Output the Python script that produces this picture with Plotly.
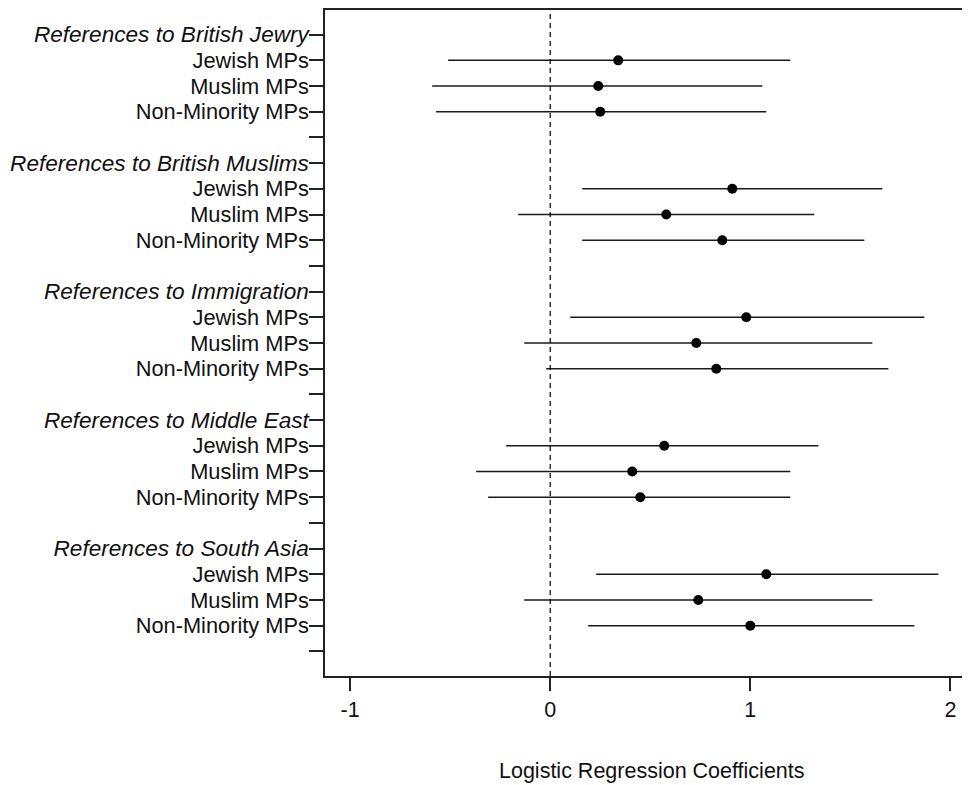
import plotly.graph_objects as go

groups = ["References to British Jewry", "References to British Muslims",
          "References to Immigration", "References to Middle East",
          "References to South Asia"]
mp_types = ["Jewish MPs", "Muslim MPs", "Non-Minority MPs"]

est = [0.34, 0.24, 0.25,
       0.91, 0.58, 0.86,
       0.98, 0.73, 0.83,
       0.57, 0.41, 0.45,
       1.08, 0.74, 1.00]
lo = [-0.51, -0.59, -0.57,
      0.16, -0.16, 0.16,
      0.10, -0.13, -0.02,
      -0.22, -0.37, -0.31,
      0.23, -0.13, 0.19]
hi = [1.20, 1.06, 1.08,
      1.66, 1.32, 1.57,
      1.87, 1.61, 1.69,
      1.34, 1.20, 1.20,
      1.94, 1.61, 1.82]

x_ticks = [-1, 0, 1, 2]
x_title = "Logistic Regression Coefficients"

# build row layout: header, three MP rows, blank
tickvals, ticktext = [], []
ys = []
row = 1
for g in groups:
    tickvals.append(row)
    ticktext.append("<i><span style='font-size:22.6px'>" + g + "</span></i>")
    row += 1
    for m in mp_types:
        tickvals.append(row); ticktext.append(m)
        ys.append(row)
        row += 1
    tickvals.append(row); ticktext.append("")
    row += 1

FONT = "Liberation Sans, Arial, sans-serif"
fig = go.Figure()

for i in range(len(est)):
    fig.add_trace(go.Scatter(x=[lo[i], hi[i]], y=[ys[i], ys[i]], mode="lines",
                             line=dict(color="#1a1a1a", width=1.5),
                             showlegend=False, hoverinfo="skip"))

fig.add_trace(go.Scatter(x=est, y=ys, mode="markers",
                         marker=dict(color="black", size=10),
                         showlegend=False))

fig.add_shape(type="line", xref="x", yref="paper", x0=0, x1=0, y0=0, y1=1,
              line=dict(color="black", width=1.2, dash="5px,4px"))

fig.add_annotation(text=x_title, xref="paper", yref="paper", x=0.5, y=0,
                   yshift=-109, showarrow=False,
                   font=dict(family=FONT, size=21.5, color="#111"))

fig.update_xaxes(range=[-1.1255, 2.138], tickvals=x_ticks, ticktext=[str(v) for v in x_ticks],
                 showgrid=False, zeroline=False, showline=True, linecolor="#222",
                 linewidth=1.5, mirror=True, ticks="outside", ticklen=13,
                 tickwidth=1.5, tickcolor="#222", automargin=False,
                 tickfont=dict(family=FONT, size=21.5, color="#111"))
fig.update_yaxes(range=[25.96, 0.04], tickvals=tickvals, ticktext=ticktext,
                 showgrid=False, zeroline=False, showline=True, linecolor="#222",
                 linewidth=1.5, mirror=False, ticks="outside", ticklen=14,
                 tickwidth=1.5, tickcolor="#222", automargin=False,
                 ticklabelstandoff=-4,
                 tickfont=dict(family=FONT, size=21.8, color="#111"))

fig.update_layout(width=970, height=785, plot_bgcolor="white", paper_bgcolor="white",
                  margin=dict(l=317, r=0, t=2, b=117), showlegend=False)

fig.write_html("out.html")
